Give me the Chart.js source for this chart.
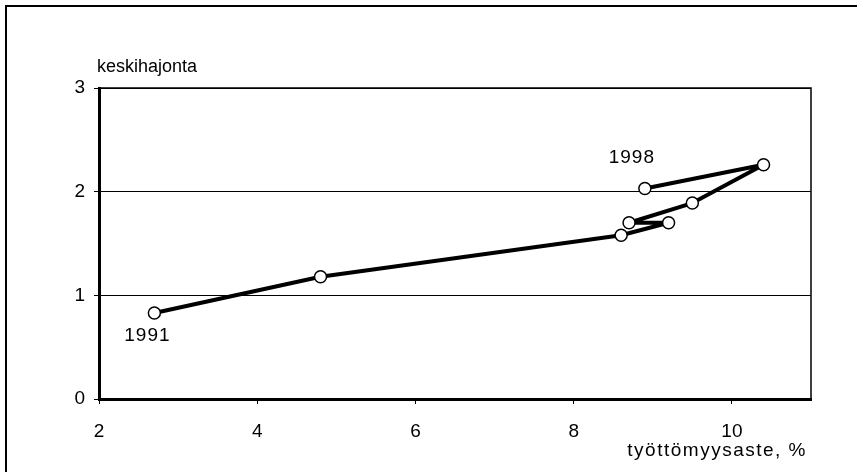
<!DOCTYPE html>
<html>
<head>
<meta charset="utf-8">
<script src="https://cdn.jsdelivr.net/npm/chart.js@4.4.1/dist/chart.umd.min.js"></script>
<style>
  html, body { margin: 0; padding: 0; background: #fff; }
  #wrap { width: 857px; height: 472px; position: relative; }
</style>
</head>
<body>
<div id="wrap"><canvas id="chart"></canvas></div>
<script>
// työttömyysaste ja keskihajonta 1991-1998
var years = ['1991', '1992', '1993', '1994', '1995', '1996', '1997', '1998'];
var unemployment = [2.7, 4.8, 8.6, 9.2, 8.7, 9.5, 10.4, 8.9];
var deviation = [0.83, 1.18, 1.58, 1.70, 1.70, 1.89, 2.26, 2.03];
var xTicks = [2, 4, 6, 8, 10];
var yTicks = [0, 1, 2, 3];
var yTitle = 'keskihajonta';
var xTitle = 'työttömyysaste, %';
var labelledYears = ['1991', '1998'];

var FONT = 'Liberation Sans, Arial, sans-serif';

var points = [];
for (var i = 0; i < years.length; i++) {
    points.push({ x: unemployment[i], y: deviation[i] });
}

// tekstit ja kehys
var extras = {
    id: 'extras',
    afterDraw: function(chart) {
        var ctx = chart.ctx;
        var a = chart.chartArea;
        var xs = chart.scales.x, ys = chart.scales.y;
        ctx.save();
        // ulkokehys
        ctx.strokeStyle = '#000';
        ctx.lineWidth = 2;
        ctx.beginPath();
        ctx.moveTo(6, 472);
        ctx.lineTo(6, 6);
        ctx.lineTo(857, 6);
        ctx.stroke();
        // kuvaajan kehys ylä ja oikea
        ctx.lineWidth = 1.5;
        ctx.beginPath();
        ctx.moveTo(a.left, a.top);
        ctx.lineTo(a.right, a.top);
        ctx.lineTo(a.right, a.bottom);
        ctx.stroke();
        ctx.fillStyle = '#000';
        ctx.textBaseline = 'middle';
        ctx.font = '18px ' + FONT;
        ctx.textAlign = 'left';
        ctx.fillText(yTitle, a.left - 2, 67);
        ctx.font = '19px ' + FONT;
        ctx.textAlign = 'right';
        ctx.letterSpacing = '1.5px';
        ctx.fillText(xTitle, a.right - 4, 451);
        ctx.letterSpacing = '1px';
        // vuosiluvut
        ctx.font = '19px ' + FONT;
        ctx.textAlign = 'center';
        labelledYears.forEach(function(yr) {
            var k = years.indexOf(yr);
            var px = xs.getPixelForValue(unemployment[k]);
            var py = ys.getPixelForValue(deviation[k]);
            if (k === 0) ctx.fillText(yr, px - 7, py + 23);
            else ctx.fillText(yr, px - 13, py - 31);
        });
        ctx.restore();
    }
};

var chart = new Chart(document.getElementById('chart'), {
    type: 'scatter',
    data: {
        datasets: [{
            data: points,
            showLine: true,
            borderColor: '#000',
            borderWidth: 4,
            borderJoinStyle: 'round',
            pointRadius: 6,
            pointHoverRadius: 6,
            pointBackgroundColor: '#fff',
            pointBorderColor: '#000',
            pointBorderWidth: 1.5
        }]
    },
    options: {
        responsive: true,
        maintainAspectRatio: false,
        animation: false,
        layout: { padding: { top: 88, right: 46, left: 0, bottom: 0 } },
        plugins: { legend: { display: false }, tooltip: { enabled: false } },
        scales: {
            x: {
                type: 'linear',
                min: 2, max: 11,
                afterFit: function(s) { s.height = 73; },
                afterBuildTicks: function(s) { s.ticks = xTicks.map(function(v) { return { value: v }; }); },
                ticks: { color: '#000', font: { family: FONT, size: 19 }, padding: 16, maxRotation: 0 },
                grid: { drawOnChartArea: false, drawTicks: true, tickLength: 5, color: '#000' },
                border: { color: '#000', width: 3 }
            },
            y: {
                min: 0, max: 3,
                afterFit: function(s) { s.width = 99; },
                afterBuildTicks: function(s) { s.ticks = yTicks.map(function(v) { return { value: v }; }); },
                ticks: { color: '#000', font: { family: FONT, size: 19 }, padding: 9 },
                grid: { color: '#000', lineWidth: 1, tickLength: 5 },
                border: { color: '#000', width: 3 }
            }
        }
    },
    plugins: [extras]
});
</script>
</body>
</html>
